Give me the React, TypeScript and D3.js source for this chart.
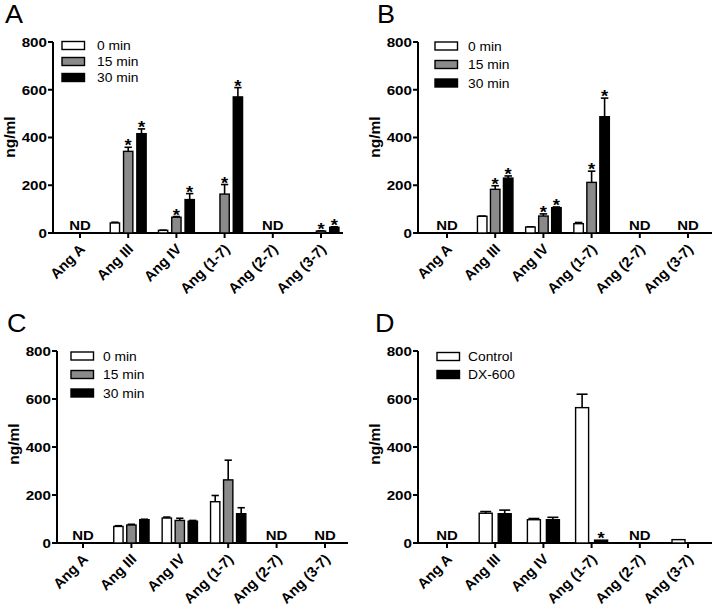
import React from "react";
import * as d3 from "d3";

const categories = ["Ang A", "Ang III", "Ang IV", "Ang (1-7)", "Ang (2-7)", "Ang (3-7)"];
const yTicks = [0, 200, 400, 600, 800];

// Panel A
const aLabels = ["0 min", "15 min", "30 min"];
const a0 = [null, 42, 11, 0, null, 0];
const a0err = [0, 3, 1, 0, 0, 0];
const a15 = [null, 342, 66, 163, null, 8];
const a15err = [0, 17, 3, 40, 0, 1];
const a30 = [null, 416, 140, 570, null, 24];
const a30err = [0, 20, 25, 39, 0, 2];
const aStars15 = ["Ang III", "Ang IV", "Ang (1-7)", "Ang (3-7)"];
const aStars30 = ["Ang III", "Ang IV", "Ang (1-7)", "Ang (3-7)"];
const aND = ["Ang A", "Ang (2-7)"];

// Panel B
const bLabels = ["0 min", "15 min", "30 min"];
const b0 = [null, 70, 25, 39, null, null];
const b0err = [0, 1, 1, 5, 0, 0];
const b15 = [null, 183, 71, 212, null, null];
const b15err = [0, 15, 9, 47, 0, 0];
const b30 = [null, 230, 106, 487, null, null];
const b30err = [0, 9, 3, 78, 0, 0];
const bStars15 = ["Ang III", "Ang IV", "Ang (1-7)"];
const bStars30 = ["Ang III", "Ang IV", "Ang (1-7)"];
const bND = ["Ang A", "Ang (2-7)", "Ang (3-7)"];

// Panel C
const cLabels = ["0 min", "15 min", "30 min"];
const c0 = [null, 69, 104, 172, null, null];
const c0err = [0, 3, 4, 26, 0, 0];
const c15 = [null, 75, 94, 263, null, null];
const c15err = [0, 3, 9, 82, 0, 0];
const c30 = [null, 97, 91, 122, null, null];
const c30err = [0, 2, 3, 25, 0, 0];
const cND = ["Ang A", "Ang (2-7)", "Ang (3-7)"];

// Panel D
const dLabels = ["Control", "DX-600"];
const dControl = [null, 124, 97, 564, null, 14];
const dControlErr = [0, 7, 5, 56, 0, 0];
const dDX = [null, 122, 97, 12, null, 1];
const dDXErr = [0, 15, 10, 0, 0, 0];
const dStarsDX = ["Ang (1-7)"];
const dND = ["Ang A", "Ang (2-7)"];

const WHITE = "#ffffff";
const GRAY = "#8a8a8a";
const BLACK = "#000000";
const FONT = "'Liberation Sans', Arial, Helvetica, sans-serif";
const SX = 1.15;

type Series = { label: string; values: (number | null)[]; err: number[]; fill: string; stars: string[] };

type PanelCfg = {
  letter: string;
  letterX: number;
  letterY: number;
  axisX: number;
  axisEnd: number;
  firstTick: number;
  lastTick: number;
  yTop: number;
  yBottom: number;
  barW: number;
  barStep: number;
  series: Series[];
  nd: string[];
  legendBoxX: number;
  legendTextX: number;
  legendY0: number;
  legendDy: number;
  yLabelY: number;
};

const panels: PanelCfg[] = [
  {
    letter: "A", letterX: 5, letterY: 23,
    axisX: 53, axisEnd: 343, firstTick: 80, lastTick: 321, yTop: 42, yBottom: 233,
    barW: 9.3, barStep: 13.3,
    series: [
      { label: aLabels[0], values: a0, err: a0err, fill: WHITE, stars: [] },
      { label: aLabels[1], values: a15, err: a15err, fill: GRAY, stars: aStars15 },
      { label: aLabels[2], values: a30, err: a30err, fill: BLACK, stars: aStars30 },
    ],
    nd: aND,
    legendBoxX: 62, legendTextX: 97, legendY0: 45.5, legendDy: 16,
    yLabelY: 137,
  },
  {
    letter: "B", letterX: 377, letterY: 23,
    axisX: 418, axisEnd: 712, firstTick: 447, lastTick: 688, yTop: 42, yBottom: 233,
    barW: 9.5, barStep: 13,
    series: [
      { label: bLabels[0], values: b0, err: b0err, fill: WHITE, stars: [] },
      { label: bLabels[1], values: b15, err: b15err, fill: GRAY, stars: bStars15 },
      { label: bLabels[2], values: b30, err: b30err, fill: BLACK, stars: bStars30 },
    ],
    nd: bND,
    legendBoxX: 435, legendTextX: 468, legendY0: 46, legendDy: 18.5,
    yLabelY: 137,
  },
  {
    letter: "C", letterX: 7, letterY: 332,
    axisX: 57, axisEnd: 348, firstTick: 83, lastTick: 325, yTop: 351, yBottom: 543,
    barW: 9.3, barStep: 13,
    series: [
      { label: cLabels[0], values: c0, err: c0err, fill: WHITE, stars: [] },
      { label: cLabels[1], values: c15, err: c15err, fill: GRAY, stars: [] },
      { label: cLabels[2], values: c30, err: c30err, fill: BLACK, stars: [] },
    ],
    nd: cND,
    legendBoxX: 71, legendTextX: 103, legendY0: 356, legendDy: 18.5,
    yLabelY: 444,
  },
  {
    letter: "D", letterX: 375, letterY: 332,
    axisX: 418, axisEnd: 712, firstTick: 447, lastTick: 688, yTop: 351, yBottom: 543,
    barW: 13, barStep: 19,
    series: [
      { label: dLabels[0], values: dControl, err: dControlErr, fill: WHITE, stars: [] },
      { label: dLabels[1], values: dDX, err: dDXErr, fill: BLACK, stars: dStarsDX },
    ],
    nd: dND,
    legendBoxX: 437, legendTextX: 468, legendY0: 356.5, legendDy: 18,
    yLabelY: 444,
  },
];

function Panel({ p }: { p: PanelCfg }) {
  const x = d3.scalePoint<string>().domain(categories).range([p.firstTick, p.lastTick]);
  const y = d3.scaleLinear().domain([0, 800]).range([p.yBottom, p.yTop]);
  const n = p.series.length;
  const offset = (i: number) => (i - (n - 1) / 2) * p.barStep;

  return (
    <g>
      <text
        transform={`translate(${p.letterX},${p.letterY}) scale(1.08,1)`}
        fontFamily={FONT}
        fontSize={25}
      >
        {p.letter}
      </text>

      {/* y axis */}
      <line x1={p.axisX} x2={p.axisX} y1={y(800)} y2={y(0)} stroke="#000" strokeWidth={2} />
      {yTicks.map((t) => (
        <g key={t}>
          <line x1={p.axisX - 5} x2={p.axisX} y1={y(t)} y2={y(t)} stroke="#000" strokeWidth={2} />
          <text
            transform={`translate(${p.axisX - 6},${y(t) + 4.8}) scale(${SX},1)`}
            textAnchor="end"
            fontFamily={FONT}
            fontWeight="bold"
            fontSize={13.2}
          >
            {t}
          </text>
        </g>
      ))}
      <text
        transform={`translate(${p.axisX - 38},${p.yLabelY}) rotate(-90)`}
        textAnchor="middle"
        fontFamily={FONT}
        fontWeight="bold"
        fontSize={15.5}
      >
        ng/ml
      </text>

      {/* x axis */}
      <line x1={p.axisX - 1} x2={p.axisEnd} y1={y(0)} y2={y(0)} stroke="#000" strokeWidth={2} />
      {categories.map((c) => (
        <g key={c}>
          <line x1={x(c)!} x2={x(c)!} y1={y(0)} y2={y(0) + 5} stroke="#000" strokeWidth={2} />
          <text
            transform={`translate(${x(c)! + 6},${y(0) + 17}) rotate(-45)`}
            textAnchor="end"
            fontFamily={FONT}
            fontWeight="bold"
            fontSize={14.5}
          >
            {c}
          </text>
        </g>
      ))}

      {/* bars */}
      {p.series.map((s, si) =>
        categories.map((c, ci) => {
          const v = s.values[ci];
          if (v === null || v <= 0) return null;
          const cx = x(c)! + offset(si);
          const top = y(v);
          const e = s.err[ci];
          const errTop = y(v + e);
          const hasStar = s.stars.includes(c);
          return (
            <g key={`${si}-${ci}`}>
              {e > 0 && (
                <g stroke="#000" strokeWidth={1.6}>
                  <line x1={cx} x2={cx} y1={top} y2={errTop} />
                  <line x1={cx - p.barW / 2 + 1} x2={cx + p.barW / 2 - 1} y1={errTop} y2={errTop} />
                </g>
              )}
              <rect
                x={cx - p.barW / 2}
                y={top}
                width={p.barW}
                height={Math.max(y(0) - top, 0.5)}
                fill={s.fill}
                stroke="#000"
                strokeWidth={1.4}
              />
              {hasStar && (
                <text
                  transform={`translate(${cx},${errTop + 4}) scale(${SX},1)`}
                  textAnchor="middle"
                  fontFamily={FONT}
                  fontWeight="bold"
                  fontSize={16}
                >
                  *
                </text>
              )}
            </g>
          );
        })
      )}

      {/* ND labels */}
      {p.nd.map((c) => (
        <text
          key={c}
          transform={`translate(${x(c)!},${y(0) - 3.5}) scale(${SX},1)`}
          textAnchor="middle"
          fontFamily={FONT}
          fontWeight="bold"
          fontSize={13}
        >
          ND
        </text>
      ))}

      {/* legend */}
      {p.series.map((s, si) => {
        const cy = p.legendY0 + si * p.legendDy;
        return (
          <g key={s.label}>
            <rect x={p.legendBoxX} y={cy - 4} width={22.5} height={8} fill={s.fill} stroke="#000" strokeWidth={1.4} />
            <text
              transform={`translate(${p.legendTextX},${cy + 4.5}) scale(1.08,1)`}
              fontFamily={FONT}
              fontSize={12.8}
            >
              {s.label}
            </text>
          </g>
        );
      })}
    </g>
  );
}

export default function App() {
  return (
    <svg width={714} height={608} style={{ position: "absolute", left: 0, top: 0, background: "#fff" }}>
      <rect width={714} height={608} fill="#fff" />
      {panels.map((p) => (
        <Panel key={p.letter} p={p} />
      ))}
    </svg>
  );
}
